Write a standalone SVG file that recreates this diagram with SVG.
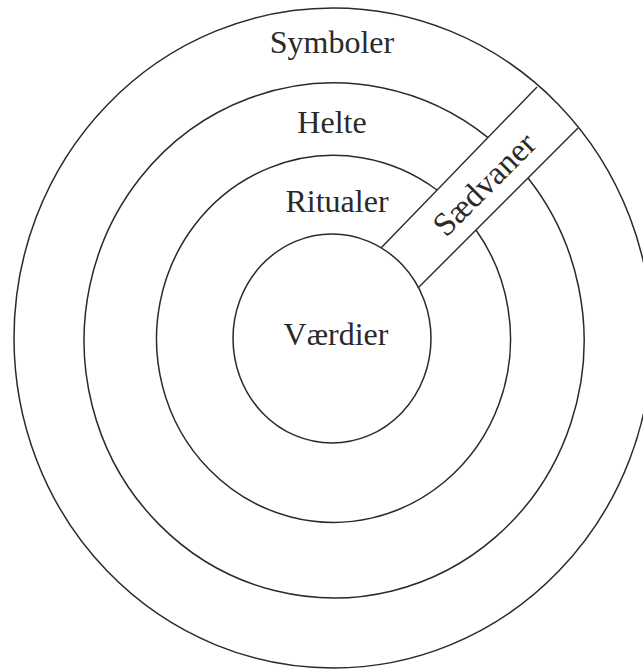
<svg xmlns="http://www.w3.org/2000/svg" width="643" height="670" viewBox="0 0 643 670">
<style>
.ring{fill:none;stroke:#2a2a2a;stroke-width:1.5}
.edge{fill:none;stroke:#2a2a2a;stroke-width:1.4}
.lbl{font-family:"Liberation Serif","Times New Roman",serif;font-size:32px;fill:#2a2a2a;text-anchor:middle}
</style>
<rect width="643" height="670" fill="#ffffff"/>
<g id="symboler">
<ellipse class="ring" cx="333" cy="338" rx="319" ry="330"/>
<text class="lbl" x="332" y="53">Symboler</text>
</g>
<g id="helte">
<path class="ring" d="M528,178 A250,257.5 0 1 1 488,137.6"/>
<text class="lbl" x="332" y="133">Helte</text>
</g>
<g id="ritualer">
<path class="ring" d="M476,230 A177,183.5 0 1 1 437,190"/>
<text class="lbl" x="337" y="212">Ritualer</text>
</g>
<g id="vaerdier">
<ellipse class="ring" cx="332" cy="338.5" rx="99" ry="104.5"/>
<text class="lbl" x="336" y="345">Værdier</text>
</g>
<g id="saedvaner">
<text class="lbl" style="font-size:33px" transform="translate(492,192) rotate(-45)" x="0" y="0">Sædvaner</text>
</g>
<g id="connectors">
<line class="edge" x1="381" y1="248" x2="537" y2="87"/>
<line class="edge" x1="418" y1="288" x2="578" y2="128"/>
</g>
</svg>
